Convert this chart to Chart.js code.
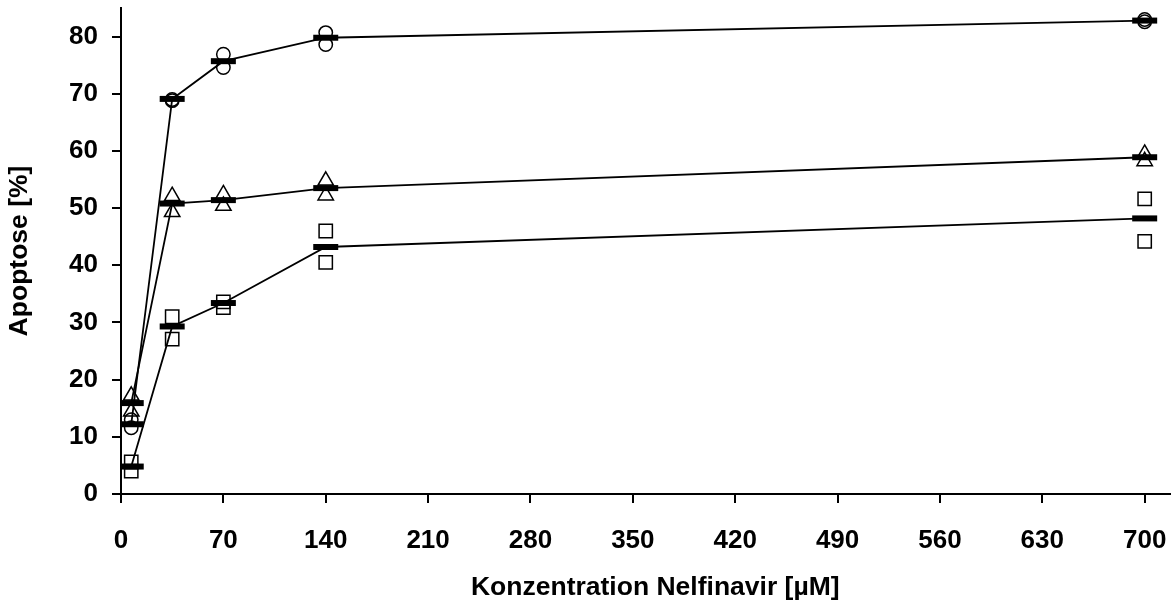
<!DOCTYPE html>
<html lang="de">
<head>
<meta charset="UTF-8">
<title>Apoptose Nelfinavir</title>
<script src="https://cdn.jsdelivr.net/npm/chart.js"></script>
<style>
  html, body { margin: 0; padding: 0; background: #fff; }
  #wrap { width: 1171px; height: 600px; }
</style>
</head>
<body>
<div id="wrap"><canvas id="myChart"></canvas></div>
<script>
  // Konzentrationen (µM)
  const conc = [7, 35, 70, 140, 700];
  const xTicks = [0, 70, 140, 210, 280, 350, 420, 490, 560, 630, 700];
  const yTicks = [0, 10, 20, 30, 40, 50, 60, 70, 80];

  // Mittelwerte
  const circleMean = [12.2, 69.1, 75.7, 79.8, 82.8];
  const triMean = [15.9, 50.8, 51.4, 53.5, 58.9];
  const squareMean = [4.8, 29.3, 33.4, 43.2, 48.2];

  // Einzelwerte (zwei pro Konzentration)
  const circleA = [11.6, 69.0, 76.9, 80.7, 83.0];
  const circleB = [13.0, 68.8, 74.6, 78.6, 82.6];
  const triA = [17.2, 52.1, 52.4, 54.8, 59.5];
  const triB = [14.4, 49.3, 50.4, 52.2, 58.2];
  const squareA = [5.6, 31.0, 33.6, 46.0, 51.6];
  const squareB = [4.0, 27.1, 32.6, 40.5, 44.2];

  const pts = (ys) => conc.map((x, i) => ({ x: x, y: ys[i] }));

  function meanSet(ys) {
    return {
      data: pts(ys),
      showLine: true,
      borderColor: '#000',
      borderWidth: 1.8,
      pointStyle: 'line',
      pointRadius: 12.5,
      pointBorderWidth: 6,
      pointBorderColor: '#000',
      pointBackgroundColor: '#000'
    };
  }

  function markerSet(ys, style, r) {
    return {
      data: pts(ys),
      showLine: false,
      pointStyle: style,
      pointRadius: r,
      pointBorderWidth: 1.5,
      pointBorderColor: '#000',
      pointBackgroundColor: 'rgba(0,0,0,0)'
    };
  }

  const tickFont = { family: 'Liberation Sans, Arial, sans-serif', size: 26, weight: 'bold' };
  const titleFont = { family: 'Liberation Sans, Arial, sans-serif', size: 26.5, weight: 'bold', lineHeight: 0.94 };

  new Chart(document.getElementById('myChart'), {
    type: 'scatter',
    data: {
      datasets: [
        meanSet(circleMean),
        meanSet(triMean),
        meanSet(squareMean),
        markerSet(circleA, 'circle', 6.7),
        markerSet(circleB, 'circle', 6.7),
        markerSet(triA, 'triangle', 8.9),
        markerSet(triB, 'triangle', 8.9),
        markerSet(squareA, 'rect', 9.4),
        markerSet(squareB, 'rect', 9.4)
      ]
    },
    options: {
      responsive: true,
      maintainAspectRatio: false,
      animation: false,
      layout: { autoPadding: false, padding: { top: 8, right: 0, left: 0, bottom: 0 } },
      plugins: { legend: { display: false }, tooltip: { enabled: false } },
      scales: {
        x: {
          type: 'linear',
          min: 0,
          max: 718,
          afterBuildTicks: (s) => { s.ticks = xTicks.map(v => ({ value: v })); },
          afterFit: (s) => { s.height = 106; s.paddingLeft = 0; s.paddingRight = 0; },
          grid: { drawOnChartArea: false, drawTicks: true, tickLength: 9, color: '#000', lineWidth: 2 },
          border: { color: '#000', width: 2 },
          ticks: { color: '#000', font: tickFont, padding: 22, maxRotation: 0, autoSkip: false },
          // leading en/thin space nudges the title slightly right, as in the original
          title: { display: true, text: '\u2002\u2009Konzentration Nelfinavir [µM]', color: '#000', font: titleFont, padding: { top: 0, bottom: 0 } }
        },
        y: {
          type: 'linear',
          min: 0,
          max: 85,
          afterBuildTicks: (s) => { s.ticks = yTicks.map(v => ({ value: v })); },
          afterFit: (s) => { s.width = 121; s.paddingTop = 0; s.paddingBottom = 0; },
          grid: { drawOnChartArea: false, drawTicks: true, tickLength: 9, color: '#000', lineWidth: 2 },
          border: { color: '#000', width: 2 },
          ticks: { color: '#000', font: tickFont, padding: 14, autoSkip: false },
          title: { display: true, text: 'Apoptose [%]', color: '#000', font: titleFont, padding: { top: 7, bottom: 0 } }
        }
      }
    }
  });
</script>
</body>
</html>
